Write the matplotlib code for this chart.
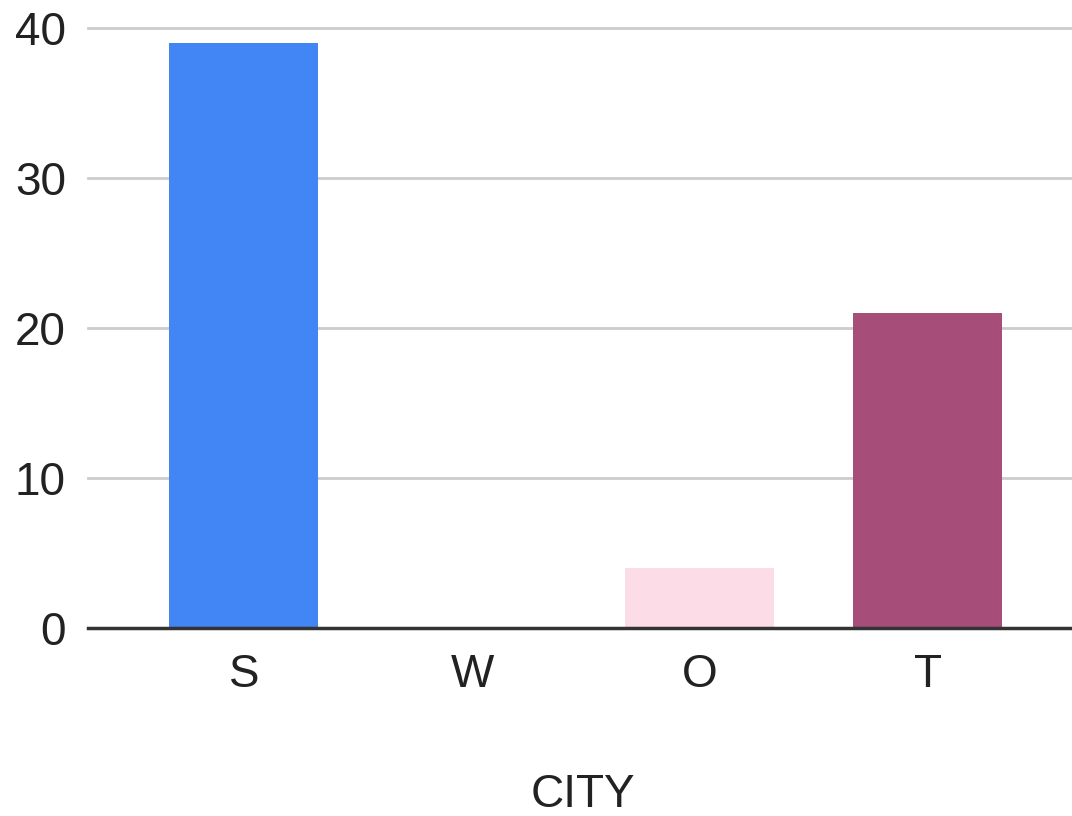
import matplotlib.pyplot as plt

# data
cities = ['S', 'W', 'O', 'T']
counts = [39, 0, 4, 21]
colors = ['#4285F4', '#9E9E9E', '#FCDCE6', '#A64D79']
yticks = [0, 10, 20, 30, 40]

plt.rcParams['font.family'] = ['Liberation Sans', 'DejaVu Sans']

fig = plt.figure(figsize=(10.72, 8.16), dpi=100)
ax = fig.add_axes([88 / 1072, 1 - 628 / 816, 1 - 88 / 1072, 600 / 816])

x = range(len(cities))
ax.bar(x, counts, width=0.654, color=colors, zorder=3)

ax.set_xlim(-0.684, 3.632)
ax.set_ylim(0, 40)
ax.set_yticks(yticks)
ax.set_xticks(list(x))
ax.set_xticklabels(cities)

ax.grid(axis='y', color='#cccccc', linewidth=2, zorder=0)
for gl in ax.get_ygridlines():
    gl.set_clip_on(False)
ax.axhline(0, color='#333333', linewidth=2.5, zorder=4, clip_on=False)

for s in ax.spines.values():
    s.set_visible(False)
ax.tick_params(axis='both', length=0, labelsize=33, colors='#222222')
ax.tick_params(axis='y', pad=16)
ax.tick_params(axis='x', pad=18)

fig.text(583 / 1072, 1 - 795 / 816, 'CITY', ha='center', va='center',
         fontsize=33, color='#222222')

fig.savefig('out.png', dpi=100)
